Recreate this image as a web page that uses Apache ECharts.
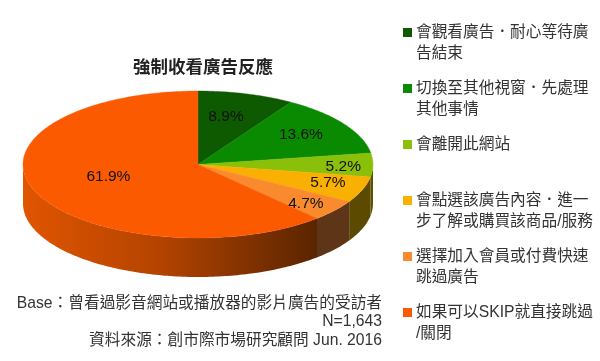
<!DOCTYPE html>
<html><head><meta charset="utf-8">
<style>html,body{margin:0;padding:0;background:#fff}#c{width:600px;height:361px;filter:blur(0.45px)}</style>
<script src="https://cdn.jsdelivr.net/npm/echarts@6/dist/echarts.min.js"></script>
</head><body><div id="c"></div>
<script>
const categories = ['會觀看廣告．耐心等待廣\n告結束','切換至其他視窗．先處理\n其他事情','會離開此網站','會點選該廣告內容．進一\n步了解或購買該商品/服務','選擇加入會員或付費快速\n跳過廣告','如果可以SKIP就直接跳過\n/關閉'];
const values = [8.9,13.6,5.2,5.7,4.7,61.9];
const topColors = ['#0d5a00','#0a8a00','#8abf0a','#f9b000','#f98a2e','#fb5a00'];
const sideColors = ['#063000','#054500','#5c5200','#5c4a00','#5e3516',null];
const titleText = '強制收看廣告反應';
const noteLines = ['Base：曾看過影音網站或播放器的影片廣告的受訪者','N=1,643','資料來源：創市際市場研究顧問 Jun. 2016'];
const labelRadius = [[.58,.68,0],[.705,.74,0],[.83,.8,1.5],[.79,.716,0],[.79,.85,0],[.55,.447,0]];

const FONT = '"Liberation Sans","Noto Sans CJK TC",sans-serif';
const CX=198, CY=164.5, RX=175, RY=73.5, DEPTH=39;
const total = values.reduce((a,b)=>a+b,0);
const pt=(deg,f=1,dy=0)=>{const t=deg*Math.PI/180;return [CX+RX*f*Math.sin(t),CY-RY*f*Math.cos(t)+dy];};
const arc=(a,b,dy=0)=>{const out=[];const n=Math.max(2,Math.ceil((b-a)/1));for(let i=0;i<=n;i++)out.push(pt(a+(b-a)*i/n,1,dy));return out;};

function makeRender(idx){
  return function(params,api){
    const v=api.value(0);
    const before=values.slice(0,idx).reduce((a,b)=>a+b,0);
    const a=before/total*360, b=(before+v)/total*360;
    const children=[];
    const s=Math.max(a,90), e=Math.min(b,270);
    if(e>s){
      const top=arc(s,e), bot=arc(s,e,DEPTH).reverse();
      const fill = sideColors[idx] || {type:'linear',global:true,x:23,y:0,x2:320,y2:0,colorStops:[
        {offset:0,color:'#e05500'},{offset:.45,color:'#b54400'},{offset:1,color:'#582400'}]};
      children.push({type:'polygon',shape:{points:top.concat(bot)},style:{fill}});
    }
    const poly=[[CX,CY]].concat(arc(a,b));
    children.push({type:'polygon',shape:{points:poly},style:{fill:topColors[idx],stroke:topColors[idx],lineWidth:.4}});
    const mid=((a+b)/2)*Math.PI/180, lr=labelRadius[idx];
    children.push({type:'text',z2:10,style:{
      x:CX+RX*lr[0]*Math.sin(mid),y:CY-RY*lr[1]*Math.cos(mid)+lr[2],
      text:v.toFixed(1)+'%',fill:'#111',font:'15.5px '+FONT,align:'center',verticalAlign:'middle'}});
    return {type:'group',children};
  };
}

const chart=echarts.init(document.getElementById('c'),null,{renderer:'canvas'});
chart.setOption({
  animation:false,
  backgroundColor:'#fff',
  title:[
    {text:titleText,left:133,top:59,padding:0,textStyle:{fontFamily:FONT,fontSize:17.5,fontWeight:'bold',color:'#222'}}
  ].concat(noteLines.map((t,i)=>({
    text:t,right:218,top:294+i*18.5,padding:0,
    textStyle:{fontFamily:FONT,fontSize:15.7,fontWeight:'normal',color:'#333',lineHeight:18.5}
  }))),
  legend:categories.map((c,i)=>({
    data:[c],orient:'vertical',left:403,top:32+i*56-31,padding:0,
    icon:'rect',itemWidth:9,itemHeight:9,itemGap:0,selectedMode:false,
    formatter:n=>n.includes('\n')?' \n'+n:' \n'+n+'\n ',
    textStyle:{fontFamily:FONT,fontSize:15.7,lineHeight:21,color:'#333',padding:[0,0,0,-1]}
  })),
  series:categories.map((c,i)=>({
    type:'custom',name:c,coordinateSystem:'none',silent:true,
    itemStyle:{color:topColors[i]},
    renderItem:makeRender(i),
    data:[[values[i]]],
    encode:{value:0}
  }))
});
</script></body></html>
